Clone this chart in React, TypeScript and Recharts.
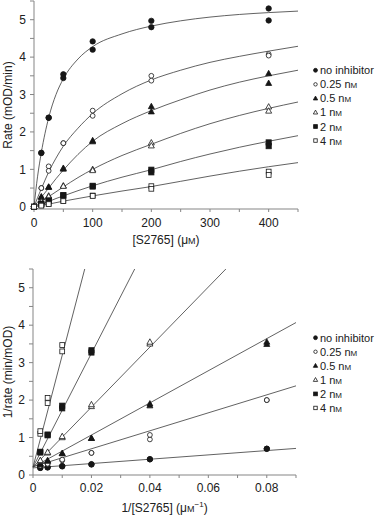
import React from 'react';
import { ScatterChart, Scatter, XAxis, YAxis } from 'recharts';

const FONT = '"Liberation Sans", Arial, Helvetica, sans-serif';
const INK = '#161616';
const AXIS = '#858585';
const CURVE = '#3a3a3a';

// ---------- series ----------
const seriesLabels = ['no inhibitor', '0.25 nM', '0.5 nM', '1 nM', '2 nM', '4 nM'];
const markerKinds = ['circleFilled', 'circleOpen', 'triangleFilled', 'triangleOpen', 'squareFilled', 'squareOpen'];

// ---------- top panel: rate vs [S2765] ----------
const substrate = [0, 12.5, 25, 50, 100, 200, 400];
const rateNoInhA = [0, 1.44, 2.38, 3.54, 4.42, 4.97, 5.3];
const rateNoInhB = [0, 1.44, 2.38, 3.44, 4.2, 4.8, 4.98];
const rate025A = [0, 0.5, 1.08, 1.7, 2.57, 3.5, 4.08];
const rate025B = [0, 0.5, 0.96, 1.7, 2.43, 3.37, 4.04];
const rate05A = [0, 0.27, 0.53, 1.03, 1.77, 2.68, 3.56];
const rate05B = [0, 0.25, 0.52, 1.01, 1.74, 2.54, 3.3];
const rate1A = [0, 0.14, 0.29, 0.56, 1.0, 1.71, 2.67];
const rate1B = [0, 0.13, 0.27, 0.55, 0.97, 1.63, 2.56];
const rate2A = [0, 0.08, 0.17, 0.31, 0.56, 0.99, 1.72];
const rate2B = [0, 0.07, 0.15, 0.3, 0.54, 0.92, 1.62];
const rate4A = [0, 0.04, 0.08, 0.16, 0.3, 0.55, 0.94];
const rate4B = [0, 0.03, 0.07, 0.15, 0.29, 0.48, 0.85];

const curveS = [0, 6, 12.5, 25, 37.5, 50, 75, 100, 150, 200, 250, 300, 350, 400, 450];
const fitNoInh = [0, 0.8, 1.45, 2.38, 3.0, 3.42, 3.95, 4.28, 4.62, 4.83, 4.97, 5.07, 5.14, 5.19, 5.23];
const fit025 = [0, 0.24, 0.48, 0.93, 1.3, 1.62, 2.1, 2.49, 3.02, 3.39, 3.65, 3.86, 4.02, 4.16, 4.29];
const fit05 = [0, 0.12, 0.25, 0.5, 0.75, 0.98, 1.4, 1.75, 2.22, 2.57, 2.86, 3.12, 3.33, 3.5, 3.65];
const fit1 = [0, 0.06, 0.13, 0.27, 0.4, 0.53, 0.78, 1.0, 1.37, 1.67, 1.96, 2.22, 2.44, 2.63, 2.8];
const fit2 = [0, 0.03, 0.07, 0.14, 0.22, 0.29, 0.43, 0.56, 0.79, 0.99, 1.21, 1.41, 1.59, 1.75, 1.9];
const fit4 = [0, 0.02, 0.04, 0.07, 0.11, 0.15, 0.22, 0.29, 0.42, 0.54, 0.68, 0.82, 0.95, 1.07, 1.18];

const topXTicks = [0, 50, 100, 150, 200, 250, 300, 350, 400, 450];
const topXLabels = ['0', '', '100', '', '200', '', '300', '', '400', ''];
const yTicks = [0, 0.5, 1, 1.5, 2, 2.5, 3, 3.5, 4, 4.5, 5, 5.5];
const yLabels = ['0', '', '1', '', '2', '', '3', '', '4', '', '5', ''];

// ---------- bottom panel: 1/rate vs 1/[S2765] ----------
const invS = [0.0025, 0.005, 0.01, 0.02, 0.04, 0.08];
const invNoInhA = [0.19, 0.2, 0.23, 0.28, 0.42, 0.7];
const invNoInhB = [0.19, 0.21, 0.24, 0.29, 0.42, 0.7];
const inv025A = [0.25, 0.29, 0.39, 0.59, 0.95, 2.0];
const inv025B = [0.25, 0.3, 0.41, 0.59, 1.07, 2.0];
const inv05A = [0.28, 0.37, 0.57, 0.98, 1.85, 3.49];
const inv05B = [0.3, 0.39, 0.58, 0.98, 1.9, 3.55];
const inv1A = [0.37, 0.59, 1.0, 1.83, 3.5];
const inv1B = [0.39, 0.61, 1.03, 1.88, 3.55];
const inv2A = [0.6, 1.06, 1.78, 3.27];
const inv2B = [0.62, 1.08, 1.85, 3.33];
const inv4A = [1.1, 1.92, 3.3];
const inv4B = [1.17, 2.06, 3.47];

const lineStartX = [0, 0, 0, 0, 0, 0];
const lineStartY = [0.19, 0.22, 0.21, 0.21, 0.21, 0.21];
const lineEndX = [0.09, 0.09, 0.09, 0.066, 0.0348, 0.0177];
const lineEndY = [0.71, 2.38, 4.07, 5.5, 5.5, 5.5];

const botXTicks = [0, 0.01, 0.02, 0.03, 0.04, 0.05, 0.06, 0.07, 0.08, 0.09];
const botXLabels = ['0', '', '0.02', '', '0.04', '', '0.06', '', '0.08', ''];

// ---------- helpers ----------
type Pt = { x: number; y: number };
const pts = (xs: number[], ys: number[]): Pt[] =>
  ys.map((y, i) => ({ x: xs[i], y })).filter((p) => p.y !== undefined && p.y !== null);

const labelFor = (ticks: number[], labels: string[]) => (v: number) => {
  const i = ticks.findIndex((t) => Math.abs(t - v) < 1e-9);
  return i >= 0 ? labels[i] : '';
};

function Marker({ kind, cx, cy, s = 1 }: { kind: string; cx: number; cy: number; s?: number }) {
  const filled = kind.endsWith('Filled');
  const common = { fill: filled ? INK : '#ffffff', stroke: INK, strokeWidth: 0.8 };
  if (kind.startsWith('circle')) {
    return <circle cx={cx} cy={cy} r={(filled ? 2.7 : 2.4) * s} {...common} />;
  }
  if (kind.startsWith('triangle')) {
    const w = 6 * s;
    const h = 5.4 * s;
    return (
      <polygon
        points={`${cx},${cy - h * 0.6} ${cx + w / 2},${cy + h * 0.4} ${cx - w / 2},${cy + h * 0.4}`}
        {...common}
      />
    );
  }
  const a = (filled ? 5.2 : 4.8) * s;
  return <rect x={cx - a / 2} y={cy - a / 2} width={a} height={a} {...common} />;
}

const markerShape = (kind: string) => (p: any) =>
  p && typeof p.cx === 'number' ? <Marker kind={kind} cx={p.cx} cy={p.cy} /> : <g />;

const noShape = () => <g />;

function UnitText({ label }: { label: string }) {
  // renders "nM" with a small-capital M
  if (label.endsWith('nM')) {
    return (
      <>
        {label.slice(0, -1)}
        <tspan fontSize={8}>M</tspan>
      </>
    );
  }
  return <>{label}</>;
}

const tickStyle = { fill: '#202020', fontSize: 12, fontFamily: FONT };

const topPoints = [
  [rateNoInhA, rateNoInhB],
  [rate025A, rate025B],
  [rate05A, rate05B],
  [rate1A, rate1B],
  [rate2A, rate2B],
  [rate4A, rate4B],
];
const topFits = [fitNoInh, fit025, fit05, fit1, fit2, fit4];

const botPoints = [
  [invNoInhA, invNoInhB],
  [inv025A, inv025B],
  [inv05A, inv05B],
  [inv1A, inv1B],
  [inv2A, inv2B],
  [inv4A, inv4B],
];

function YTitle(text: string) {
  return (props: any) => {
    const vb = props.viewBox || {};
    const x = 11.5;
    const y = vb.y + vb.height / 2;
    return (
      <text
        x={x}
        y={y}
        transform={`rotate(-90, ${x}, ${y})`}
        textAnchor="middle"
        fontSize={12}
        fontFamily={FONT}
        fill="#202020"
      >
        {text}
      </text>
    );
  };
}

function Legend({ top }: { top: number }) {
  return (
    <>
      {seriesLabels.map((lab, i) => {
        const cy = top + i * 14.05;
        return (
          <g key={lab}>
            <Marker kind={markerKinds[i]} cx={315.5} cy={cy} s={0.72} />
            <text x={320} y={cy + 4} fontSize={11} fontFamily={FONT} fill="#202020">
              <UnitText label={lab} />
            </text>
          </g>
        );
      })}
    </>
  );
}

export default function App() {
  return (
    <div style={{ position: 'absolute', left: 0, top: 0, width: 378, height: 515, background: '#fff' }}>
      <div style={{ position: 'absolute', left: 0, top: 0 }}>
        <ScatterChart width={378} height={250} margin={{ top: 1, right: 80, bottom: 0, left: 0 }}>
          <XAxis
            type="number"
            dataKey="x"
            domain={[0, 450]}
            ticks={topXTicks}
            interval={0}
            tickFormatter={labelFor(topXTicks, topXLabels)}
            height={41}
            tickSize={3}
            tickMargin={6}
            axisLine={{ stroke: AXIS }}
            tickLine={{ stroke: AXIS }}
            tick={tickStyle}
            label={{
              content: (props: any) => {
                const vb = props.viewBox || {};
                return (
                  <text
                    x={vb.x + vb.width / 2}
                    y={vb.y + 35}
                    textAnchor="middle"
                    fontSize={12}
                    fontFamily={FONT}
                    fill="#202020"
                  >
                    [S2765] (μ<tspan fontSize={9}>M</tspan>)
                  </text>
                );
              },
            }}
          />
          <YAxis
            type="number"
            dataKey="y"
            domain={[-0.06, 5.5]}
            ticks={yTicks}
            interval={0}
            tickFormatter={labelFor(yTicks, yLabels)}
            width={34}
            tickSize={4}
            tickMargin={4}
            axisLine={{ stroke: AXIS }}
            tickLine={{ stroke: AXIS }}
            tick={tickStyle}
            label={{ content: YTitle('Rate (mOD/min)') }}
          />
          {topFits.map((f, i) => (
            <Scatter
              key={`fit-${i}`}
              data={pts(curveS, f)}
              line={{ stroke: CURVE, strokeWidth: 0.8 }}
              lineJointType="monotoneX"
              shape={noShape}
              isAnimationActive={false}
            />
          ))}
          {topPoints.map((reps, i) =>
            reps.map((ys, r) => (
              <Scatter
                key={`tp-${i}-${r}`}
                name={seriesLabels[i]}
                data={pts(substrate, ys)}
                shape={markerShape(markerKinds[i])}
                isAnimationActive={false}
              />
            ))
          )}
        </ScatterChart>
      </div>
      <div style={{ position: 'absolute', left: 0, top: 250 }}>
        <ScatterChart width={378} height={265} margin={{ top: 19, right: 82, bottom: 0, left: 0 }}>
          <XAxis
            type="number"
            dataKey="x"
            domain={[0, 0.09]}
            ticks={botXTicks}
            interval={0}
            tickFormatter={labelFor(botXTicks, botXLabels)}
            height={40}
            tickSize={3}
            tickMargin={5}
            axisLine={{ stroke: AXIS }}
            tickLine={{ stroke: AXIS }}
            tick={tickStyle}
            label={{
              content: (props: any) => {
                const vb = props.viewBox || {};
                return (
                  <text
                    x={vb.x + vb.width / 2}
                    y={vb.y + 37}
                    textAnchor="middle"
                    fontSize={12}
                    fontFamily={FONT}
                    fill="#202020"
                  >
                    1/[S2765] (μ<tspan fontSize={9}>M</tspan>
                    <tspan fontSize={8} dy={-5}>−1</tspan>
                    <tspan dy={5}>)</tspan>
                  </text>
                );
              },
            }}
          />
          <YAxis
            type="number"
            dataKey="y"
            domain={[0, 5.5]}
            ticks={yTicks}
            interval={0}
            tickFormatter={labelFor(yTicks, yLabels)}
            width={33}
            tickSize={4}
            tickMargin={4}
            axisLine={{ stroke: AXIS }}
            tickLine={{ stroke: AXIS }}
            tick={tickStyle}
            label={{ content: YTitle('1/rate (min/mOD)') }}
          />
          {seriesLabels.map((lab, i) => (
            <Scatter
              key={`ln-${i}`}
              data={[
                { x: lineStartX[i], y: lineStartY[i] },
                { x: lineEndX[i], y: lineEndY[i] },
              ]}
              line={{ stroke: CURVE, strokeWidth: 0.8 }}
              shape={noShape}
              isAnimationActive={false}
            />
          ))}
          {botPoints.map((reps, i) =>
            reps.map((ys, r) => (
              <Scatter
                key={`bp-${i}-${r}`}
                name={seriesLabels[i]}
                data={pts(invS, ys)}
                shape={markerShape(markerKinds[i])}
                isAnimationActive={false}
              />
            ))
          )}
        </ScatterChart>
      </div>
      <svg
        width={378}
        height={515}
        style={{ position: 'absolute', left: 0, top: 0, pointerEvents: 'none' }}
      >
        <Legend top={70.3} />
        <Legend top={337.7} />
      </svg>
    </div>
  );
}
